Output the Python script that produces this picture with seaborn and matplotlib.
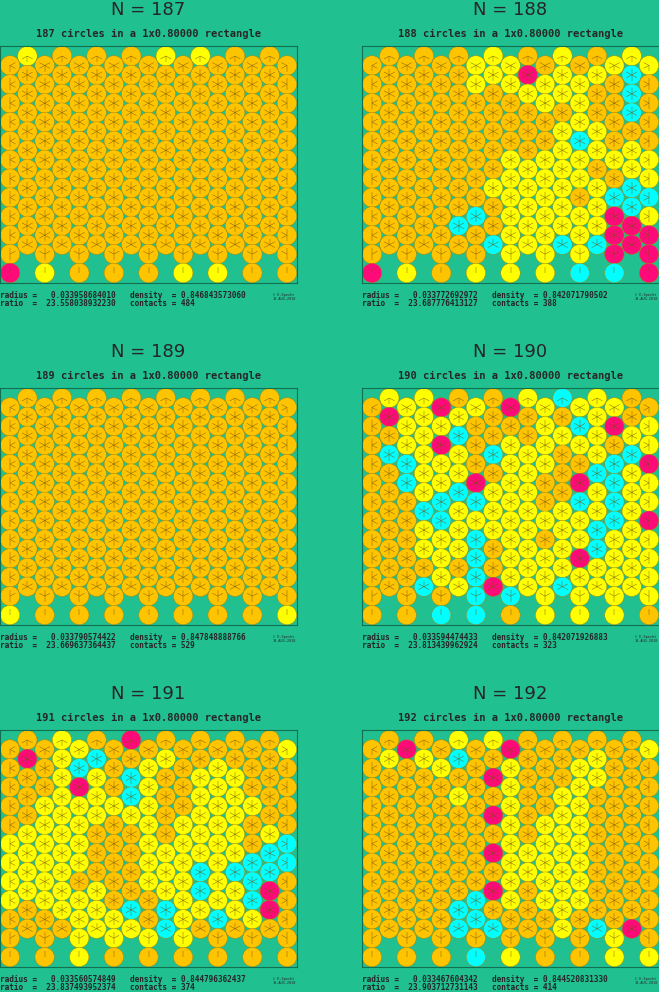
import numpy as np
import matplotlib
matplotlib.use("Agg")
import matplotlib.pyplot as plt
import seaborn as sns
from matplotlib.patches import Circle
from matplotlib.collections import PatchCollection, LineCollection

sns.set_style("white")

BG = "#20c090"
COLORS = {"o": "#ffc400", "y": "#ffff00", "c": "#00ffff", "m": "#ff0a78"}

# panel data: N, radius, density, ratio, contacts
counts = [187, 188, 189, 190, 191, 192]
radii = ["0.033958684010", "0.033772692972", "0.033790574422",
         "0.033594474433", "0.033560574849", "0.033467604342"]
densities = ["0.846843573060", "0.842071790502", "0.847848888766",
             "0.842071926883", "0.844796362437", "0.844520831330"]
ratios = ["23.558038932230", "23.687776413127", "23.669637364437",
          "23.813439962924", "23.837493952374", "23.903712731143"]
contacts = [484, 388, 529, 323, 374, 414]

# circle colours, one string per column (top -> bottom);
# even columns hold 12 circles, odd columns 11
cols187 = ["ooooooooooom", "yoooooooooo", "oooooooooooy", "ooooooooooo",
           "oooooooooooo", "ooooooooooo", "oooooooooooo", "ooooooooooo",
           "oooooooooooo", "yoooooooooo", "oooooooooooy", "yoooooooooo",
           "oooooooooooy", "ooooooooooo", "oooooooooooo", "ooooooooooo",
           "oooooooooooo"]
cols188 = ["ooooooooooom", "ooooooooooo", "oooooooooooy", "ooooooooooo",
           "oooooooooooo", "oooooooooco", "yyoooooocooy", "yyoooooyooc",
           "yyoooyyyyyyy", "omyoooyyyyy", "oyyooyyyyyyy", "yyyoyyyyyyc",
           "oyyycyyoyyyc", "oyooyyoyyyc", "yooooyocmmmc", "ycccoyyccmm",
           "yooooyycymmm"]
cols189 = ["oooooooooooy", "ooooooooooo", "oooooooooooo", "ooooooooooo",
           "oooooooooooo", "ooooooooooo", "oooooooooooo", "ooooooooooo",
           "oooooooooooo", "ooooooooooo", "oooooooooooo", "ooooooooooo",
           "oooooooooooo", "ooooooooooo", "oooooooooooo", "ooooooooooo",
           "oooooooooooy"]
cols190 = ["oooooooooooo", "ymocooooooo", "yyyccooooooo", "yyyyyycyyoc",
           "mymyyccyyyoc", "oycyycyyyoy", "yooomcyccccc", "ooocoyyyoom",
           "moyyyyyyyyco", "yooyyyyyyyy", "yyyyooyoyyyy", "coyoooyyyyc",
           "ycyomcyymyyy", "yyyycyyccyy", "ymoccccyyyyy", "ooycyyyyyyy",
           "oyymyymyyyyo"]
cols191 = ["oooooyyyyooo", "omoooyyyyoo", "oooyyyyyyooo", "yyyyyyyyyyo",
           "ycmyyyyoyyyy", "ocyyyoooyyy", "oooyoooooyyo", "moccyoooocy",
           "oyyyyyyyooyo", "oyooooyyycc", "ooooyyyyyyyo", "ooyyyyyccyo",
           "oyyyyyyyycoo", "ooyyyyycyyo", "oooyoocccyoo", "oooooyccmmo",
           "yooooccooooo"]
cols192 = ["oooooooooooo", "oyooooooooo", "mooooooooooo", "oyooooooooo",
           "oyoooooooooo", "ycoyooooocc", "ooooooooccoc", "yomomomomoc",
           "myyyyyyyyooy", "ooooooyyooo", "ooooyyyyyooo", "oooyyyyyyyy",
           "oyyyyyyyyooo", "oyyoooooooc", "ooooooooooyy", "oooooooooom",
           "yooooooooooy"]
panels = [cols187, cols188, cols189, cols190, cols191, cols192]

W, H = 659, 992
fig = plt.figure(figsize=(W / 100, H / 100), dpi=100)
fig.patch.set_facecolor(BG)

lefts = [0, 362]
tops = [46, 388, 730]
pw, ph = 297, 237


def px(x, y, w, h):
    return [x / W, 1 - (y + h) / H, w / W, h / H]


for i, cols in enumerate(panels):
    left = lefts[i % 2]
    top = tops[i // 2]
    ax = fig.add_axes(px(left, top, pw, ph))
    ax.set_facecolor(BG)
    ax.set_xlim(0, 1)
    ax.set_ylim(0, 0.8)
    ax.set_xticks([])
    ax.set_yticks([])
    for s in ax.spines.values():
        s.set_color("#107050")
        s.set_linewidth(0.8)

    r = float(radii[i])
    ncol = len(cols)
    dx = (1 - 2 * r) / (ncol - 1)
    dy = (0.8 - 2 * r) / 11.5
    centers, fcs = [], []
    for ci, col in enumerate(cols):
        x = r + ci * dx
        for ri, ch in enumerate(col):
            if ch == ".":
                continue
            if ci % 2 == 1:
                y = 0.8 - r - ri * dy
            else:
                y = 0.8 - r - dy / 2 - ri * dy
            centers.append((x, y))
            fcs.append(COLORS[ch])
    centers = np.array(centers)
    patches = [Circle(c, r * 0.97) for c in centers]
    ax.add_collection(PatchCollection(patches, facecolors=fcs,
                                      edgecolors="#b08000", linewidths=0.3))
    # contact strokes toward touching neighbours
    segs = []
    d = np.linalg.norm(centers[:, None, :] - centers[None, :, :], axis=2)
    for a in range(len(centers)):
        for b in np.where((d[a] > 0) & (d[a] < 2.02 * r))[0]:
            v = (centers[b] - centers[a]) / d[a, b]
            segs.append([centers[a], centers[a] + v * r * 0.6])
    ax.add_collection(LineCollection(segs, colors="#705010", linewidths=0.3))

    cx = (left + pw / 2) / W
    fig.text(cx, 1 - (top - 36) / H, f"N = {counts[i]}", ha="center",
             va="center", fontsize=13)
    fig.text(cx, 1 - (top - 12) / H,
             f"{counts[i]} circles in a 1x0.80000 rectangle", ha="center",
             va="center", fontsize=7.5, family="DejaVu Sans Mono",
             fontweight="bold")
    fy1 = 1 - (top + ph + 12) / H
    fy2 = 1 - (top + ph + 21) / H
    fig.text(left / W, fy1, f"radius =   {radii[i]}", fontsize=5.6,
             family="DejaVu Sans Mono", fontweight="bold", va="center")
    fig.text(left / W, fy2, f"ratio  =  {ratios[i]}", fontsize=5.6,
             family="DejaVu Sans Mono", fontweight="bold", va="center")
    fig.text((left + 130) / W, fy1, f"density  = {densities[i]}",
             fontsize=5.6, family="DejaVu Sans Mono", fontweight="bold",
             va="center")
    fig.text((left + 130) / W, fy2, f"contacts = {contacts[i]}",
             fontsize=5.6, family="DejaVu Sans Mono", fontweight="bold",
             va="center")
    fig.text((left + 284) / W, 1 - (top + ph + 14) / H,
             "© E.Specht\n19-AUG-2010", fontsize=2.5, ha="center",
             va="center", family="DejaVu Sans Mono")

fig.savefig("out.png", dpi=100, facecolor=BG)
